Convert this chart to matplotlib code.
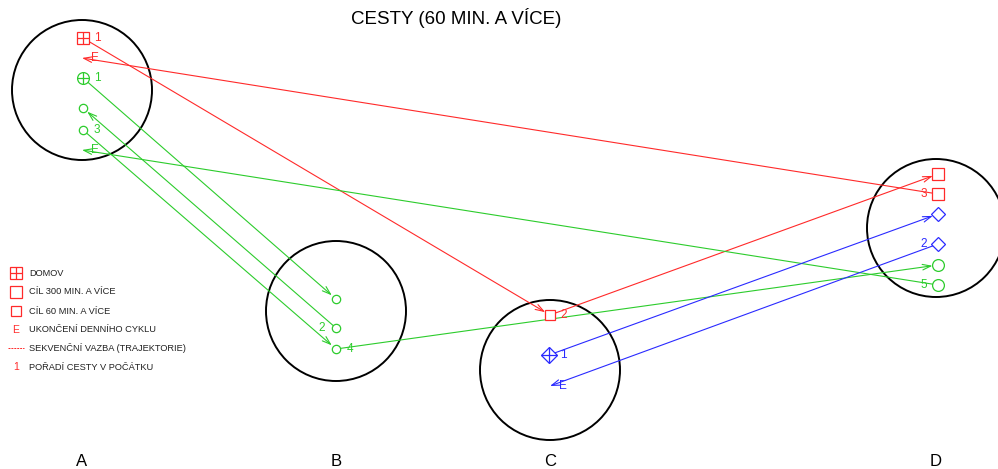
import matplotlib.pyplot as plt
from matplotlib.patches import Circle

plt.rcParams['font.family'] = ['Liberation Sans', 'DejaVu Sans']

# zones (A, B, C, D) drawn as circles, coordinates in picture units
zone_names = ['A', 'B', 'C', 'D']
zone_x = [82, 336, 550, 936]
zone_y = [90, 311, 370, 228]
zone_r = [70, 70, 70, 69]

# trajectories: segments from -> to
red_from_x = [83, 550, 938]
red_from_y = [38, 315, 194]
red_to_x = [550, 938, 82]
red_to_y = [315, 174, 58]

green_from_x = [83, 336, 83, 336, 938]
green_from_y = [78, 328, 130, 349, 285]
green_to_x = [336, 83, 336, 938, 82]
green_to_y = [299, 108, 349, 265, 150]

blue_from_x = [549, 938]
blue_from_y = [355, 244]
blue_to_x = [938, 550]
blue_to_y = [214, 386]

# nodes: x, y, kind, colour key, label, label side
node_x = [83, 83, 83, 83, 336, 336, 336, 550, 549, 938, 938, 938, 938, 938, 938]
node_y = [38, 78, 108, 130, 299, 328, 349, 315, 355, 174, 194, 214, 244, 265, 285]
node_kind = ['home', 'ccross', 'csmall', 'csmall', 'csmall', 'csmall', 'csmall',
             'ssmall', 'dcross', 'sbig', 'sbig', 'diam', 'diam', 'cbig', 'cbig']
node_col = ['r', 'g', 'g', 'g', 'g', 'g', 'g', 'r', 'b', 'r', 'r', 'b', 'b', 'g', 'g']
node_lab = ['1', '1', '', '3', '', '2', '4', '2', '1', '', '3', '', '2', '', '5']
node_side = [1, 1, 1, 1, 1, -1, 1, 1, 1, 1, -1, 1, -1, 1, -1]

# day-cycle ends
end_x = [82, 82, 550]
end_y = [58, 150, 386]
end_col = ['r', 'g', 'b']

legend_labels = ['DOMOV', 'CÍL 300 MIN. A VÍCE', 'CÍL 60 MIN. A VÍCE',
                 'UKONČENÍ DENNÍHO CYKLU', 'SEKVENČNÍ VAZBA (TRAJEKTORIE)',
                 'POŘADÍ CESTY V POČÁTKU']

colors = {'r': '#ff2a2a', 'g': '#2ccc2c', 'b': '#2a2aff'}
marker_style = {
    'home': ('s', 8.5, True), 'sbig': ('s', 9.0, False), 'ssmall': ('s', 6.5, False),
    'ccross': ('o', 8.5, True), 'cbig': ('o', 8.5, False), 'csmall': ('o', 6.0, False),
    'dcross': ('D', 8.5, True), 'diam': ('D', 7.0, False),
}

fig = plt.figure(figsize=(9.98, 4.69), dpi=100)
ax = fig.add_axes([0, 0, 1, 1])
ax.set_xlim(0, 998)
ax.set_ylim(469, 0)
ax.axis('off')

for name, x, y, r in zip(zone_names, zone_x, zone_y, zone_r):
    ax.add_patch(Circle((x, y), r, fill=False, ec='black', lw=1.4))
    ax.text(x, 461, name, ha='center', va='center', fontsize=12)

ends = set(zip(end_x, end_y))


def draw_path(fx, fy, tx, ty, c):
    for x0, y0, x1, y1 in zip(fx, fy, tx, ty):
        shrink = 0 if (x1, y1) in ends else 4
        ax.annotate('', xy=(x1, y1), xytext=(x0, y0),
                    arrowprops=dict(arrowstyle='->,head_length=0.6,head_width=0.2',
                                    color=colors[c], lw=0.8, shrinkA=0, shrinkB=shrink))


draw_path(red_from_x, red_from_y, red_to_x, red_to_y, 'r')
draw_path(green_from_x, green_from_y, green_to_x, green_to_y, 'g')
draw_path(blue_from_x, blue_from_y, blue_to_x, blue_to_y, 'b')

for x, y, k, c, lab, side in zip(node_x, node_y, node_kind, node_col, node_lab, node_side):
    m, ms, cross = marker_style[k]
    col = colors[c]
    ax.plot(x, y, marker=m, ms=ms, mfc='white', mec=col, mew=0.9, zorder=3)
    if cross:
        ax.plot(x, y, marker='+', ms=ms * (1.35 if m == 'D' else 1.0), color=col,
                mew=0.9, zorder=4)
    if lab:
        ax.text(x + side * 14, y, lab, color=col, fontsize=8.5, ha='center', va='center')

for x, y, c in zip(end_x, end_y, end_col):
    ax.text(x + 13, y, 'E', color=colors[c], fontsize=8.5, ha='center', va='center')

ax.text(456, 18, 'CESTY (60 MIN. A VÍCE)', ha='center', va='center', fontsize=13.5)

# legend
leg_y = [273, 292, 311, 330, 348, 367]
red = colors['r']
ax.plot(16, leg_y[0], marker='s', ms=8.5, mfc='white', mec=red, mew=0.9)
ax.plot(16, leg_y[0], marker='+', ms=8.5, color=red, mew=0.9)
ax.plot(16, leg_y[1], marker='s', ms=9.0, mfc='white', mec=red, mew=0.9)
ax.plot(16, leg_y[2], marker='s', ms=6.5, mfc='white', mec=red, mew=0.9)
ax.text(16, leg_y[3], 'E', color=red, fontsize=7.5, ha='center', va='center')
ax.plot([8, 24], [leg_y[4], leg_y[4]], color=red, lw=0.7, ls=(0, (2, 1)))
ax.text(16, leg_y[5], '1', color=red, fontsize=7.5, ha='center', va='center')
for y, lab in zip(leg_y, legend_labels):
    ax.text(29, y, lab, fontsize=6.7, color='#222222', ha='left', va='center')

fig.savefig('out.png', dpi=100)
